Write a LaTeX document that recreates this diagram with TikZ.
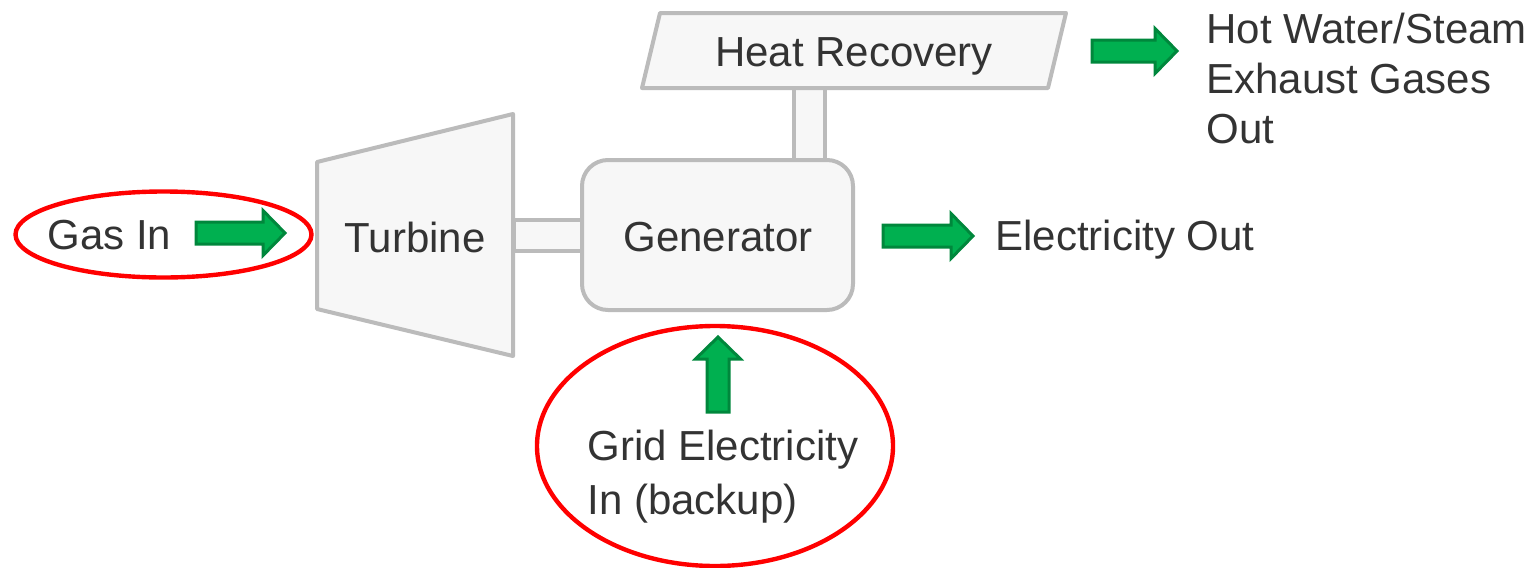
\documentclass[tikz,border=0pt]{standalone}
\usepackage{fontspec}
\setmainfont{Liberation Sans}
\definecolor{txt}{HTML}{333333}
\definecolor{boxline}{HTML}{BBBBBB}
\definecolor{boxfill}{HTML}{F7F7F7}
\definecolor{gfill}{HTML}{00B050}
\definecolor{gline}{HTML}{00873C}
\definecolor{ringred}{HTML}{FF0000}
\begin{document}
\begin{tikzpicture}[x=0.5pt,y=-0.5pt,
  lbl/.style={font=\fontsize{21}{25}\selectfont,text=txt,inner sep=0pt},
  part/.style={draw=boxline,fill=boxfill,line width=2pt,line join=round},
  ring/.style={draw=ringred,line width=2.2pt},
  garrowstyle/.style={draw=gline,fill=gfill,line width=1.5pt,line join=miter},
  garrow/.pic={\path[garrowstyle] (0,-11) -- ({#1-22},-11) -- ({#1-22},-22.5) -- (#1,0) -- ({#1-22},22.5) -- ({#1-22},11) -- (0,11) -- cycle;}
]
\useasboundingbox (0,0) rectangle (1538,568);

% shafts (connectors drawn under the parts)
\path[part] (514,220) rectangle (582,251);
\path[part] (794,88) rectangle (825,160);

% turbine
\path[part] (317,162) -- (513,114) -- (513,356) -- (317,309) -- cycle;
\node[lbl] (turbine) at (415,237) {Turbine};

% generator
\path[part,rounded corners=13pt] (582,160) rectangle (853,310);
\node[lbl] (generator) at (718,237) {Generator};

% heat recovery
\path[part] (660,13) -- (1066,13) -- (1048,88) -- (642,88) -- cycle;
\node[lbl] (heat) at (854,56) {Heat Recovery};

% gas in
\draw[ring] (163.5,234.5) ellipse [x radius=148,y radius=43];
\node[lbl,anchor=west] (gas) at (47,235) {Gas In};
\path (196,233) pic (gasarrow) {garrow=89};

% electricity out
\path (883,236) pic (elecarrow) {garrow=90};
\node[lbl,anchor=west] (elec) at (995,240) {Electricity Out};

% heat out
\path (1092,51) pic (heatarrow) {garrow=85};
\node[lbl,anchor=west,align=left] (hot) at (1206,78) {Hot Water/Steam\\Exhaust Gases\\Out};

% grid in
\draw[ring] (715,446) ellipse [x radius=178,y radius=120];
\path (718,412) pic[rotate=90] (gridarrow) {garrow=75};
\node[lbl,anchor=west,align=left,font=\fontsize{21}{27}\selectfont] (grid) at (587,477) {Grid Electricity\\In (backup)};
\end{tikzpicture}
\end{document}
